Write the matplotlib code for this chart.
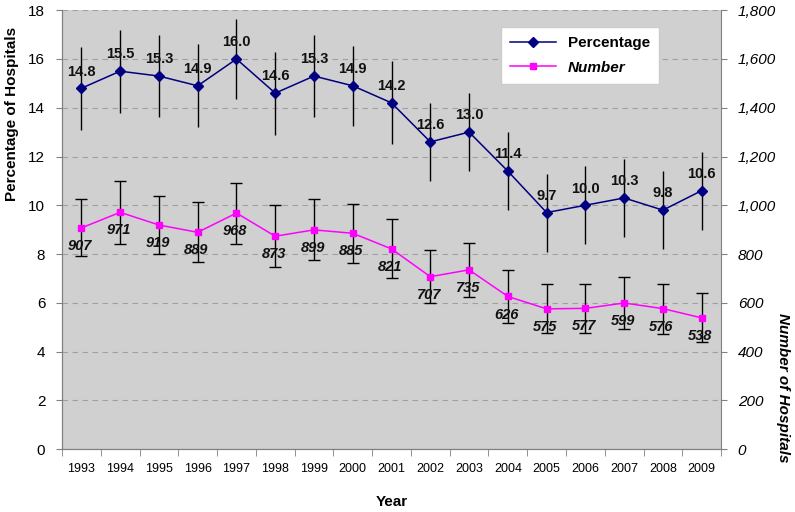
import numpy as np
import matplotlib.pyplot as plt
from matplotlib.ticker import FuncFormatter

plt.rcParams['font.family'] = ['Liberation Sans', 'DejaVu Sans']

years = list(range(1993, 2010))
pct = [14.8, 15.5, 15.3, 14.9, 16.0, 14.6, 15.3, 14.9, 14.2, 12.6, 13.0, 11.4, 9.7, 10.0, 10.3, 9.8, 10.6]
pct_err = [1.7, 1.7, 1.7, 1.7, 1.65, 1.7, 1.7, 1.65, 1.7, 1.6, 1.6, 1.6, 1.6, 1.6, 1.6, 1.6, 1.6]
num = [907, 971, 919, 889, 968, 873, 899, 885, 821, 707, 735, 626, 575, 577, 599, 576, 538]
num_err = [117, 130, 120, 123, 125, 126, 125, 121, 121, 110, 112, 107, 100, 102, 106, 103, 100]

fig = plt.figure(figsize=(7.95, 5.12), dpi=100)
ax = fig.add_axes([0.078, 0.123, 0.829, 0.857])
ax.set_facecolor('#d0d0d0')
ax2 = ax.twinx()

ax.errorbar(years, pct, yerr=pct_err, fmt='none', ecolor='black', elinewidth=1, capsize=0, zorder=2)
lp, = ax.plot(years, pct, color='#000080', marker='D', markersize=4.8, linewidth=1.1, label='Percentage', zorder=3)
ax2.errorbar(years, num, yerr=num_err, fmt='none', ecolor='black', elinewidth=1, capsize=4, capthick=1, zorder=2)
ln, = ax2.plot(years, num, color='#ff00ff', marker='s', markersize=5, linewidth=1.1, label='Number', zorder=3)

for x, v in zip(years, pct):
    ax.annotate(f'{v:.1f}', (x, v), xytext=(0, 7), textcoords='offset points',
                ha='center', va='bottom', fontsize=10.5, fontweight='bold', color='#111111')
for x, v in zip(years, num):
    ax2.annotate(f'{v}', (x, v), xytext=(-1, -8), textcoords='offset points',
                 ha='center', va='top', fontsize=10.5, fontweight='bold', style='italic', color='#111111')

ax.set_xlim(1992.5, 2009.5)
ax.set_ylim(0, 18)
ax2.set_ylim(0, 1800)
ax.set_xticks(years)
ax.set_xticks(np.arange(1992.5, 2010, 1), minor=True)
ax.set_yticks(range(0, 19, 2))
ax2.set_yticks(range(0, 1801, 200))
ax2.yaxis.set_major_formatter(FuncFormatter(lambda v, p: f'{int(v):,}'))
ax.tick_params(axis='x', which='major', labelsize=9, length=0, pad=10)
ax.tick_params(axis='x', which='minor', length=5, color='#808080')
ax.tick_params(axis='y', labelsize=11, length=4, color='#808080', pad=8)
ax2.tick_params(axis='y', labelsize=11, length=4, color='#808080', pad=8)
for t in ax2.get_yticklabels():
    t.set_style('italic')

ax.yaxis.grid(True, linestyle=(0, (5, 4)), color='#a0a0a0', linewidth=0.8)
ax.set_axisbelow(True)
for sp in ['top', 'right']:
    ax.spines[sp].set_visible(False)
ax2.spines['top'].set_visible(False)
for sp in ['left', 'right', 'bottom']:
    ax2.spines[sp].set_color('#808080')
    ax.spines[sp].set_color('#808080')

fig.text(392 / 795, 1 - 502 / 512, 'Year', fontsize=11, fontweight='bold', ha='center', va='center')
fig.text(12 / 795, 1 - 114 / 512, 'Percentage of Hospitals', fontsize=11, fontweight='bold',
         rotation=90, ha='center', va='center')
fig.text(783 / 795, 1 - 388 / 512, 'Number of Hospitals', fontsize=11, fontweight='bold', style='italic',
         rotation=-90, ha='center', va='center')

leg = ax2.legend(handles=[lp, ln], loc='upper left', bbox_to_anchor=(0.666, 0.962),
                 fontsize=11, frameon=True, fancybox=False, edgecolor='#cccccc', framealpha=1,
                 borderpad=0.6, handlelength=3.0, labelspacing=0.7, borderaxespad=0)
leg.get_frame().set_facecolor('white')
leg.get_texts()[0].set_fontweight('bold')
leg.get_texts()[1].set_fontweight('bold')
leg.get_texts()[1].set_style('italic')

fig.savefig('out.png', dpi=100)
